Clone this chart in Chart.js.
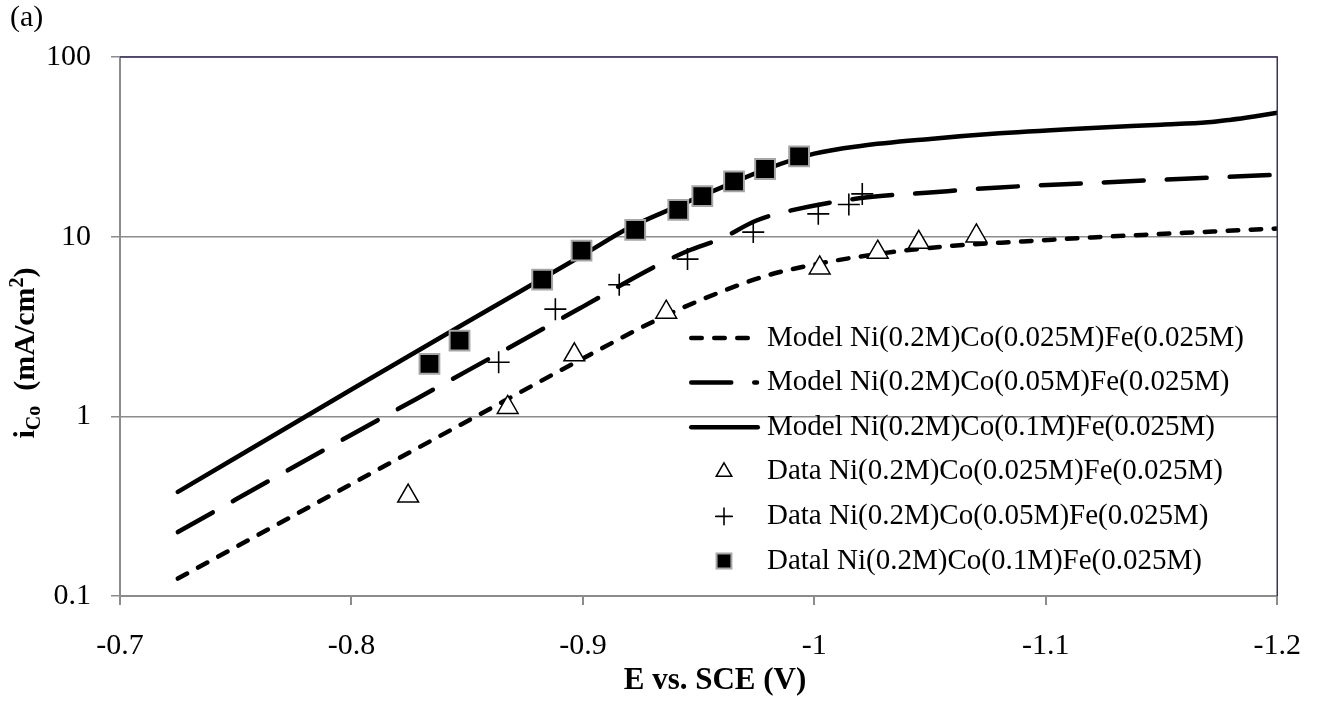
<!DOCTYPE html>
<html>
<head>
<meta charset="utf-8">
<title>Co partial current vs potential</title>
<script src="https://cdn.jsdelivr.net/npm/chart.js@4.4.1/dist/chart.umd.min.js"></script>
<style>
  html, body { margin: 0; padding: 0; background: #fff; }
  #wrap { position: relative; width: 1324px; height: 702px; }
</style>
</head>
<body>
<div id="wrap"><canvas id="chart" width="1324" height="702"></canvas></div>
<script>
var FONT = "'Liberation Serif', 'Times New Roman', serif";

// model curves: potential E (V vs SCE) and Co partial current (mA/cm2)
var modelCo025E = [-0.725, -0.80, -0.85, -0.90, -0.935, -0.96, -0.98, -1.00, -1.03, -1.06, -1.09, -1.12, -1.16, -1.20];
var modelCo025I = [0.125, 0.42, 0.94, 2.1, 3.6, 4.95, 6.1, 7.0, 8.1, 8.9, 9.4, 9.9, 10.5, 11.1];

var modelCo05E = [-0.725, -0.80, -0.85, -0.90, -0.93, -0.945, -0.96, -0.975, -0.99, -1.02, -1.05, -1.08, -1.12, -1.16, -1.20];
var modelCo05I = [0.227, 0.79, 1.79, 4.08, 6.7, 8.3, 9.8, 12.3, 14.0, 16.4, 17.6, 18.8, 19.9, 21.0, 22.1];

var modelCo1E = [-0.725, -0.80, -0.85, -0.90, -0.92, -0.94, -0.96, -0.98, -1.00, -1.02, -1.05, -1.08, -1.12, -1.15, -1.17, -1.18, -1.19, -1.20];
var modelCo1I = [0.38, 1.41, 3.35, 7.9, 11.2, 14.6, 18.8, 24.0, 29.0, 32.0, 35.0, 37.6, 40.3, 42.0, 43.3, 44.8, 46.7, 48.9];

// measured points
var dataCo025E = [-0.8245, -0.8675, -0.8963, -0.936, -1.0023, -1.0274, -1.0451, -1.070];
var dataCo025I = [0.36, 1.12, 2.2, 3.8, 6.7, 8.2, 9.3, 10.1];

var dataCo05E = [-0.8636, -0.8881, -0.9157, -0.9452, -0.9736, -1.0017, -1.0149, -1.0207];
var dataCo05I = [2.0, 3.95, 5.4, 7.5, 10.6, 13.4, 15.1, 17.3];

var dataCo1E = [-0.8337, -0.8467, -0.8824, -0.8994, -0.9226, -0.9412, -0.9516, -0.9653, -0.9787, -0.9934];
var dataCo1I = [1.96, 2.64, 5.76, 8.36, 10.9, 14.1, 16.8, 20.3, 23.8, 28.0];

var seriesLabels = [
  'Model Ni(0.2M)Co(0.025M)Fe(0.025M)',
  'Model Ni(0.2M)Co(0.05M)Fe(0.025M)',
  'Model Ni(0.2M)Co(0.1M)Fe(0.025M)',
  'Data Ni(0.2M)Co(0.025M)Fe(0.025M)',
  'Data Ni(0.2M)Co(0.05M)Fe(0.025M)',
  'Datal Ni(0.2M)Co(0.1M)Fe(0.025M)'
];

var yTicks = [0.1, 1, 10, 100];
var yTickLabels = ['0.1', '1', '10', '100'];

function toPoints(xs, ys) {
  return xs.map(function (x, i) {
    return { x: x, y: ys[i] };
  });
}

function modelDataset(label, xs, ys, dash) {
  return {
    label: label,
    data: toPoints(xs, ys),
    showLine: true,
    borderColor: '#000',
    borderWidth: 4.5,
    borderDash: dash,
    borderCapStyle: 'round',
    borderJoinStyle: 'round',
    cubicInterpolationMode: 'monotone',
    pointRadius: 0,
    order: 2
  };
}

function dataDataset(label, xs, ys, style, radius, fill, stroke, strokeWidth) {
  return {
    label: label,
    data: toPoints(xs, ys),
    showLine: false,
    pointStyle: style,
    pointRadius: radius,
    pointBackgroundColor: fill,
    pointBorderColor: stroke,
    pointBorderWidth: strokeWidth,
    order: 1
  };
}

// legend in the lower right of the plot, one row per dataset (no box)
var plotLegend = {
  id: 'plotLegend',
  afterDraw: function (chart) {
    var ctx = chart.ctx;
    ctx.save();

    chart.data.datasets.forEach(function (ds, i) {
      var y = 338 + i * 44.6;
      if (ds.showLine) {
        var end = ds.borderDash.length ? (ds.borderDash[0] > 20 ? 757 : 747.75) : 757.75;
        ctx.beginPath();
        ctx.setLineDash(ds.borderDash);
        ctx.lineCap = 'round';
        ctx.lineWidth = ds.borderWidth;
        ctx.strokeStyle = ds.borderColor;
        ctx.moveTo(691.25, y);
        ctx.lineTo(end, y);
        ctx.stroke();
        ctx.setLineDash([]);
      } else {
        ctx.fillStyle = ds.pointBackgroundColor;
        ctx.strokeStyle = ds.pointBorderColor;
        ctx.lineWidth = ds.pointBorderWidth;
        Chart.helpers.drawPoint(ctx, {
          pointStyle: ds.pointStyle,
          radius: ds.pointRadius * 0.75,
          borderWidth: ds.pointBorderWidth,
          rotation: 0
        }, 724, y);
      }
      ctx.fillStyle = '#000';
      ctx.font = '29px ' + FONT;
      ctx.textAlign = 'left';
      ctx.textBaseline = 'middle';
      ctx.fillText(ds.label, 767, y);
    });
    ctx.restore();
  }
};

// dark top and right edges of the plot area
var plotFrame = {
  id: 'plotFrame',
  afterDraw: function (chart) {
    var a = chart.chartArea;
    var ctx = chart.ctx;
    ctx.save();
    ctx.strokeStyle = '#3d2f5b';
    ctx.lineWidth = 1.5;
    ctx.beginPath();
    ctx.moveTo(a.left, a.top);
    ctx.lineTo(a.right, a.top);
    ctx.lineTo(a.right, a.bottom);
    ctx.stroke();
    ctx.restore();
  }
};

// panel tag and axis titles (the y title needs a subscript and superscript)
var axisTitles = {
  id: 'axisTitles',
  afterDraw: function (chart) {
    var ctx = chart.ctx;
    ctx.save();
    ctx.fillStyle = '#000';

    ctx.font = '30px ' + FONT;
    ctx.textAlign = 'left';
    ctx.textBaseline = 'middle';
    ctx.fillText('(a)', 10, 18);

    ctx.font = 'bold 31px ' + FONT;
    ctx.textAlign = 'center';
    ctx.fillText('E vs. SCE (V)', 715, 681);

    var parts = [
      { text: 'i', size: 30, shift: 0 },
      { text: 'Co', size: 20, shift: 6 },
      { text: '  (mA/cm', size: 30, shift: 0 },
      { text: '2', size: 20, shift: -11 },
      { text: ')', size: 30, shift: 0 }
    ];
    var total = 0;
    parts.forEach(function (p) {
      ctx.font = 'bold ' + p.size + 'px ' + FONT;
      p.width = ctx.measureText(p.text).width;
      total += p.width;
    });
    ctx.translate(27, 353);
    ctx.rotate(-Math.PI / 2);
    ctx.textAlign = 'left';
    ctx.textBaseline = 'alphabetic';
    var x = -total / 2;
    parts.forEach(function (p) {
      ctx.font = 'bold ' + p.size + 'px ' + FONT;
      ctx.fillText(p.text, x, 7 + p.shift);
      x += p.width;
    });
    ctx.restore();
  }
};

Chart.defaults.font.family = FONT;
Chart.defaults.color = '#000';

var chart = new Chart(document.getElementById('chart').getContext('2d'), {
  type: 'scatter',
  data: {
    datasets: [
      modelDataset(seriesLabels[0], modelCo025E, modelCo025I, [10.5, 12.5]),
      modelDataset(seriesLabels[1], modelCo05E, modelCo05I, [40, 23]),
      modelDataset(seriesLabels[2], modelCo1E, modelCo1I, []),
      dataDataset(seriesLabels[3], dataCo025E, dataCo025I, 'triangle', 12, '#fff', '#000', 1.5),
      dataDataset(seriesLabels[4], dataCo05E, dataCo05I, 'cross', 11, '#000', '#000', 1.6),
      dataDataset(seriesLabels[5], dataCo1E, dataCo1I, 'rect', 14, '#000', '#a6a6a6', 2)
    ]
  },
  options: {
    responsive: false,
    animation: false,
    devicePixelRatio: 1,
    events: [],
    layout: { padding: { top: 57, right: 45, bottom: 0, left: 0 } },
    plugins: {
      legend: { display: false },
      tooltip: { enabled: false }
    },
    scales: {
      x: {
        type: 'linear',
        reverse: true,
        min: -1.2,
        max: -0.7,
        ticks: {
          stepSize: 0.1,
          autoSkip: false,
          maxRotation: 0,
          padding: 23,
          color: '#000',
          font: { size: 30 },
          callback: function (value) {
            return String(Math.round(value * 10) / 10);
          }
        },
        grid: { drawOnChartArea: false, tickLength: 9, color: '#8c8c8c', lineWidth: 2 },
        border: { color: '#8c8c8c', width: 2 },
        afterFit: function (scale) { scale.height = 106; }
      },
      y: {
        type: 'logarithmic',
        min: 0.1,
        max: 100,
        afterBuildTicks: function (scale) {
          scale.ticks = yTicks.map(function (v) { return { value: v }; });
        },
        ticks: {
          padding: 20,
          color: '#000',
          font: { size: 30 },
          callback: function (value) {
            var k = yTicks.indexOf(value);
            return k >= 0 ? yTickLabels[k] : '';
          }
        },
        grid: { tickLength: 9, color: '#8c8c8c', lineWidth: 1.5 },
        border: { color: '#8c8c8c', width: 2 },
        afterFit: function (scale) { scale.width = 120; }
      }
    }
  },
  plugins: [plotLegend, plotFrame, axisTitles]
});
</script>
</body>
</html>
